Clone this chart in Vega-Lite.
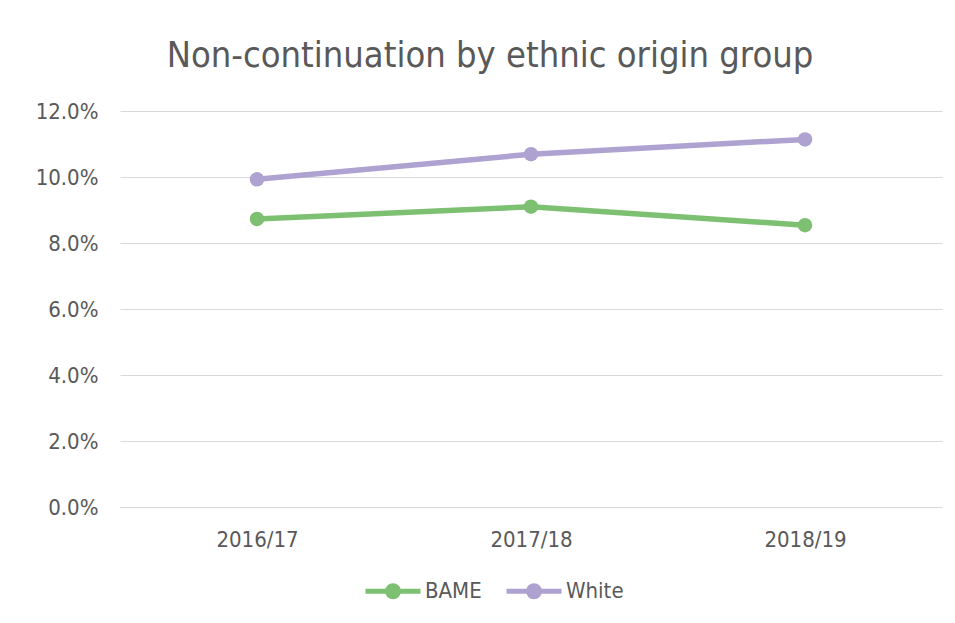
{
  "$schema": "https://vega.github.io/schema/vega-lite/v6.json",
  "width": 822,
  "height": 396,
  "autosize": {"type": "none"},
  "padding": {"left": 120, "top": 111, "right": 13, "bottom": 116},
  "background": "white",
  "title": {
    "text": "Non-continuation by ethnic origin group",
    "font": "DejaVu Sans Condensed",
    "fontSize": 36,
    "fontWeight": "normal",
    "color": "#595959",
    "anchor": "middle",
    "dx": -41,
    "offset": 25
  },
  "config": {
    "view": {"stroke": null},
    "font": "DejaVu Sans Condensed"
  },
  "data": {
    "values": [
      {"year": "2016/17", "group": "BAME", "rate": 0.0873},
      {"year": "2017/18", "group": "BAME", "rate": 0.0910},
      {"year": "2018/19", "group": "BAME", "rate": 0.0854},
      {"year": "2016/17", "group": "White", "rate": 0.0993},
      {"year": "2017/18", "group": "White", "rate": 0.1069},
      {"year": "2018/19", "group": "White", "rate": 0.1114}
    ]
  },
  "mark": {
    "type": "line",
    "strokeWidth": 5.5,
    "point": {"filled": true, "size": 210}
  },
  "encoding": {
    "x": {
      "field": "year",
      "type": "ordinal",
      "scale": {"padding": 0.5},
      "axis": {
        "title": null,
        "labelAngle": 0,
        "labelFontSize": 22,
        "labelColor": "#595959",
        "labelFont": "DejaVu Sans Condensed",
        "labelPadding": 22,
        "ticks": false,
        "domainColor": "#d9d9d9",
        "domainWidth": 1,
        "grid": false
      }
    },
    "y": {
      "field": "rate",
      "type": "quantitative",
      "scale": {"domain": [0, 0.12], "nice": false},
      "axis": {
        "title": null,
        "values": [0, 0.02, 0.04, 0.06, 0.08, 0.1, 0.12],
        "format": ".1%",
        "labelFontSize": 22,
        "labelColor": "#595959",
        "labelFont": "DejaVu Sans Condensed",
        "labelPadding": 22,
        "ticks": false,
        "domain": false,
        "gridColor": "#d9d9d9",
        "gridWidth": 1
      }
    },
    "color": {
      "field": "group",
      "type": "nominal",
      "scale": {"domain": ["BAME", "White"], "range": ["#7DC072", "#AEA2D1"]},
      "legend": {
        "title": null,
        "orient": "none",
        "direction": "horizontal",
        "legendX": 243,
        "legendY": 450,
        "labelFontSize": 22,
        "labelColor": "#595959",
        "labelFont": "DejaVu Sans Condensed",
        "symbolType": "M-1,0H1M0,-0.2A0.2,0.2 0 1,1 0,0.2A0.2,0.2 0 1,1 0,-0.2Z",
        "symbolSize": 3025,
        "symbolStrokeWidth": 5,
        "labelOffset": 2,
        "columnPadding": 14
      }
    }
  }
}
